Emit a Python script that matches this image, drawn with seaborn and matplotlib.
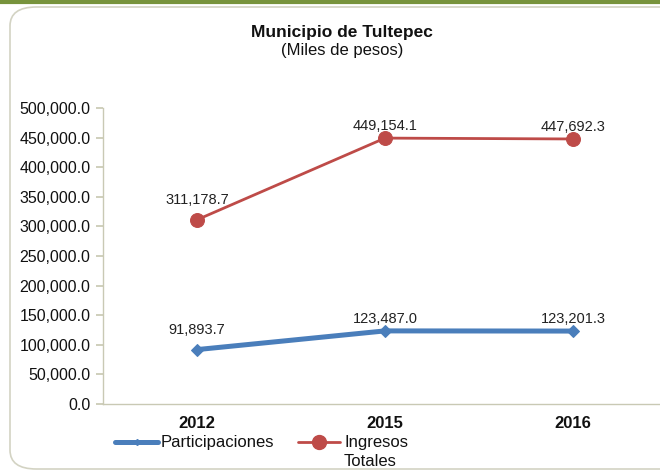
import numpy as np
import pandas as pd
import seaborn as sns
import matplotlib
matplotlib.use("Agg")
from matplotlib import pyplot as plt
from matplotlib.patches import FancyBboxPatch
from matplotlib.lines import Line2D

# Data
years = ["2012", "2015", "2016"]
participaciones = [91893.7, 123487.0, 123201.3]
ingresos_totales = [311178.7, 449154.1, 447692.3]

df = pd.DataFrame({"year": years * 2,
                   "value": participaciones + ingresos_totales,
                   "serie": ["Participaciones"] * 3 + ["Ingresos Totales"] * 3})

sns.set_theme(style="white")
plt.rcParams['font.family'] = ['Liberation Sans', 'DejaVu Sans']

blue = "#4a7ebb"
red = "#be4b48"
spine_col = "#c9c9b4"
W, H = 660, 472

fig = plt.figure(figsize=(6.6, 4.72), dpi=100)

# outer rounded frame and green top band
frame = FancyBboxPatch((10 / W, 3 / H), 680 / W, 462 / H,
                       boxstyle="round,pad=0,rounding_size=0.04",
                       transform=fig.transFigure, facecolor="white",
                       edgecolor="#d3d3c3", linewidth=1.2, zorder=-1)
fig.patches.append(frame)
fig.add_artist(Line2D([0, 1], [1 - 1.5 / H] * 2, transform=fig.transFigure,
                      color="#77933c", linewidth=3))

ax = fig.add_axes([103 / W, 68 / H, 564 / W, 296 / H])
ax.set_facecolor("none")

sns.lineplot(data=df[df["serie"] == "Participaciones"], x="year", y="value",
             color=blue, linewidth=3.6, marker="D", markersize=6.5,
             markeredgecolor=blue, ax=ax, zorder=3)
sns.lineplot(data=df[df["serie"] == "Ingresos Totales"], x="year", y="value",
             color=red, linewidth=2, marker="o", markersize=10,
             markeredgecolor=red, ax=ax, zorder=3)

# Excel-like label placement (pushed down near the other labels)
offsets = [9, 3.5, 3.5]
for i, v in enumerate(participaciones):
    ax.annotate(f"{v:,.1f}", (i, v), xytext=(0, offsets[i]), textcoords="offset points",
                ha="center", va="bottom", fontsize=10.5, color="#222222")
for i, v in enumerate(ingresos_totales):
    ax.annotate(f"{v:,.1f}", (i, v), xytext=(0, offsets[i]), textcoords="offset points",
                ha="center", va="bottom", fontsize=10.5, color="#222222")

ax.set_xlim(-0.5, 2.5)
ax.set_ylim(0, 500000)
ax.set_yticks(np.arange(0, 500001, 50000))
ax.set_yticklabels([f"{t:,.1f}" for t in np.arange(0, 500001, 50000)], fontsize=11.5,
                   color="#111111")
ax.set_xticks([0, 1, 2])
ax.set_xticklabels(years, fontsize=12, fontweight="bold", color="#111111")
ax.set_xticks([-0.5, 0.5, 1.5], minor=True)
ax.tick_params(axis="x", which="major", length=0, pad=9)
ax.tick_params(axis="x", which="minor", length=5, color=spine_col, direction="out")
ax.tick_params(axis="y", length=5, color=spine_col, direction="out", pad=4, left=True)
ax.set_xlabel("")
ax.set_ylabel("")
for s in ["top", "right"]:
    ax.spines[s].set_visible(False)
for s in ["left", "bottom"]:
    ax.spines[s].set_color(spine_col)
    ax.spines[s].set_linewidth(1)
if ax.get_legend():
    ax.get_legend().remove()

fig.text(342 / W, 1 - 33 / H, "Municipio de Tultepec", ha="center", va="center",
         fontsize=12.5, fontweight="bold", color="#111111")
fig.text(342 / W, 1 - 50 / H, "(Miles de pesos)", ha="center", va="center",
         fontsize=12, color="#111111")

# legend drawn by hand, Excel style (first text line aligned with the key)
ly = 1 - 442 / H
fig.add_artist(Line2D([115 / W, 158 / W], [ly, ly], transform=fig.transFigure,
                      color=blue, linewidth=3.6))
fig.add_artist(Line2D([136.5 / W], [ly], transform=fig.transFigure, color=blue,
                      marker="D", markersize=3, linewidth=0))
fig.text(161 / W, ly, "Participaciones", ha="left", va="center", fontsize=12,
         color="#111111")
fig.add_artist(Line2D([298 / W, 340 / W], [ly, ly], transform=fig.transFigure,
                      color=red, linewidth=2))
fig.add_artist(Line2D([319 / W], [ly], transform=fig.transFigure, color=red,
                      marker="o", markersize=10, linewidth=0))
fig.text(344 / W, ly, "Ingresos", ha="left", va="center", fontsize=12, color="#111111")
fig.text(344 / W, 1 - 462 / H, "Totales", ha="left", va="center", fontsize=12,
         color="#111111")

fig.savefig("out.png", dpi=100)
